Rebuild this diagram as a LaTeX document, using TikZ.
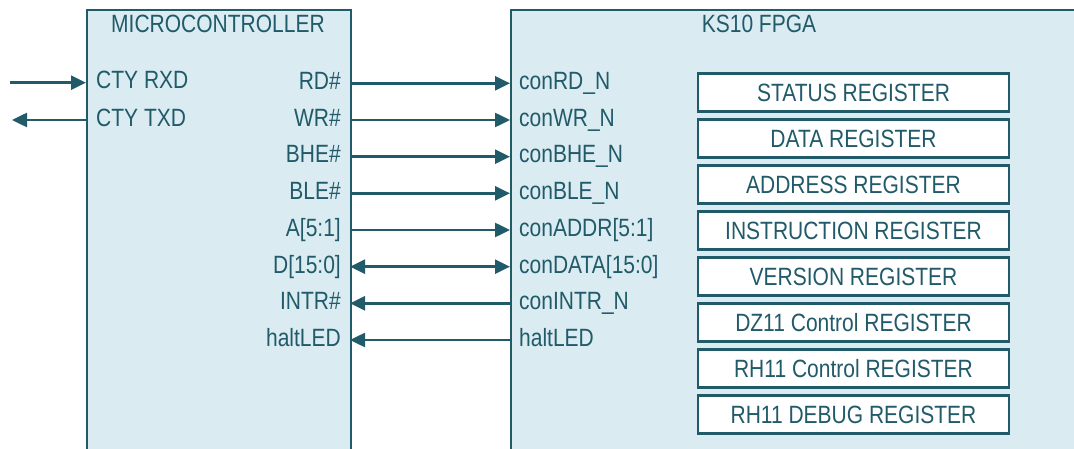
\documentclass[tikz,border=0pt]{standalone}
\usepackage{fontspec}
\setmainfont{Liberation Sans}[FakeStretch=0.84]
\usetikzlibrary{arrows.meta}
\definecolor{teal}{RGB}{33,90,105}
\definecolor{chipfill}{RGB}{218,236,242}
\tikzset{
  chip/.style={draw=teal, line width=2pt, fill=chipfill, rectangle, anchor=north west, inner sep=0pt},
  regbox/.style={draw=teal, line width=2.2pt, fill=white, rectangle, minimum width=311pt, minimum height=38pt,
                 inner sep=0pt, text height=18pt, text depth=0pt, text=teal, font=\fontsize{25}{29}\selectfont},
  lbl/.style={text=teal, inner sep=0pt, font=\fontsize{25}{29}\selectfont},
  wire/.style={draw=teal, line width=2.5pt},
  >={Triangle[length=15pt,width=14pt]}
}
\begin{document}
\begin{tikzpicture}[x=1pt,y=-1pt]
\useasboundingbox (0,0) rectangle (1074,449);
\clip (0,0) rectangle (1074,449);
\fill[white] (0,0) rectangle (1074,449);

% the two chips, running past the lower and right edges
\node[chip, minimum width=264pt, minimum height=470pt] (mc) at (86,9.5) {};
\node[chip, minimum width=600pt, minimum height=470pt] (fpga) at (510,9.5) {};

\node[lbl, anchor=base] (mctitle) at (218,33) {MICROCONTROLLER};
\node[lbl, anchor=base] (fpgatitle) at (759,33) {KS10 FPGA};

% console serial port
\node[lbl, anchor=base west] (rxd) at (96,89) {CTY RXD};
\node[lbl, anchor=base west] (txd) at (96,126.5) {CTY TXD};
\coordinate (rxin) at (10,82.7);
\coordinate (txout) at (12,120);
\draw[wire, ->] (rxin) -- (mc.west |- rxin);
\draw[wire, ->] (mc.west |- txout) -- (txout);

% bus signals
\foreach \n/\y/\ml/\fl in {
  rd/83.3/RD\#/conRD\_N,
  wr/120/WR\#/conWR\_N,
  bhe/156.7/BHE\#/conBHE\_N,
  ble/193.3/BLE\#/conBLE\_N,
  addr/230/A[5:1]/conADDR[5:1],
  data/266.7/D[15:0]/conDATA[15:0],
  intr/303.3/INTR\#/conINTR\_N,
  halt/340/haltLED/haltLED}{
  \node[lbl, anchor=base east] (m\n) at (341,\y+6.3) {\ml};
  \node[lbl, anchor=base west] (f\n) at (519,\y+6.3) {\fl};
  \coordinate (ma\n) at (350,\y);
  \coordinate (fa\n) at (510,\y);
}
\foreach \n in {rd,wr,bhe,ble,addr}
  \draw[wire, ->] (ma\n) -- (fa\n);
\draw[wire, <->] (madata) -- (fadata);
\foreach \n in {intr,halt}
  \draw[wire, ->] (fa\n) -- (ma\n);

% register file inside the FPGA
\foreach \n/\t [count=\i from 0] in {
  status/STATUS REGISTER,
  data/DATA REGISTER,
  addr/ADDRESS REGISTER,
  instr/INSTRUCTION REGISTER,
  version/VERSION REGISTER,
  dz/DZ11 Control REGISTER,
  rhc/RH11 Control REGISTER,
  rhd/RH11 DEBUG REGISTER}
  \node[regbox] (r\n) at (853.5,92.5+46*\i) {\t};
\end{tikzpicture}
\end{document}
